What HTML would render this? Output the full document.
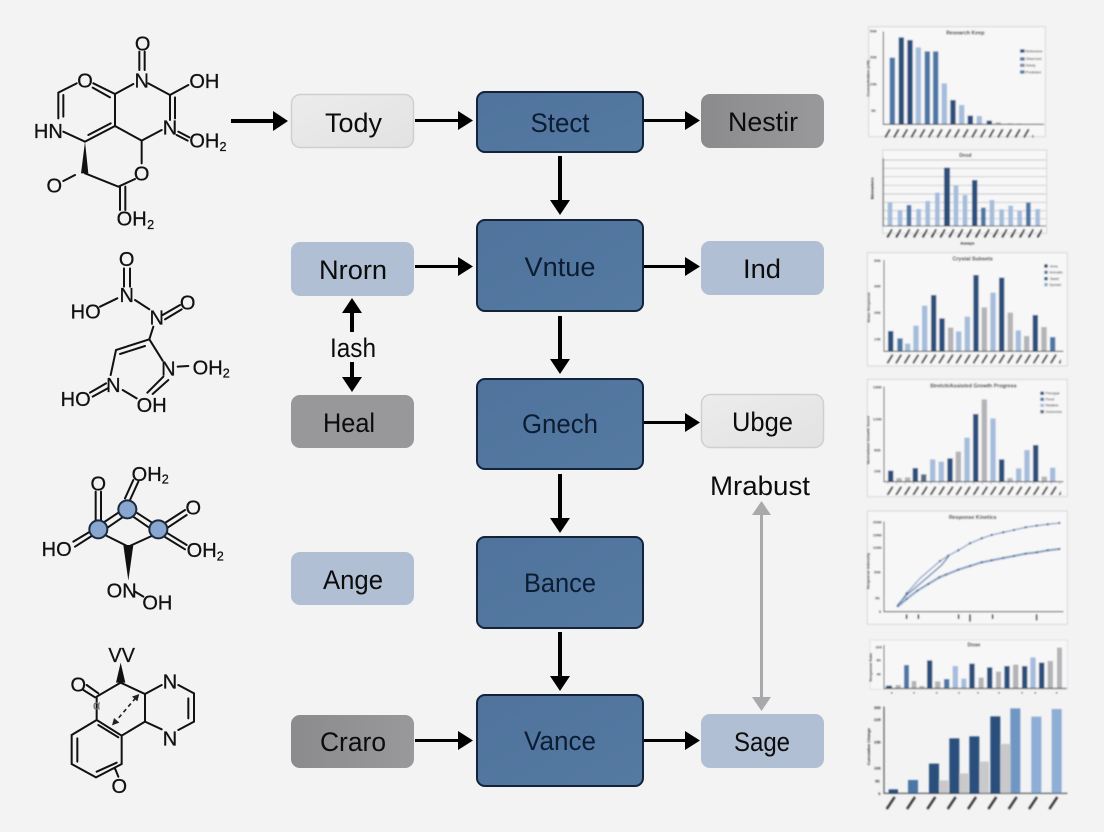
<!DOCTYPE html>
<html lang="en"><head><meta charset="utf-8"><title>Diagram</title>
<style>
html,body{margin:0;padding:0;background:#f3f3f4}
svg{display:block}
.n{font:27px "Liberation Sans",sans-serif;text-anchor:middle;fill:#0c0c0c}
.b{fill:#0c1c32}
.m text{font:60px "Liberation Sans",sans-serif;text-anchor:middle;fill:#111;stroke:#111;stroke-width:.8}
.m text.s{font-size:38px}
.m path.l{fill:none;stroke:#111;stroke-width:6;stroke-linecap:round}
.c text{font:11px "Liberation Sans",sans-serif;fill:#222}
.c text.t{font-size:16px;font-weight:bold;text-anchor:middle;fill:#111}
.c text.y{font-size:12px;font-weight:bold;text-anchor:middle;fill:#222}
.k{fill:#2b4f7b}.d{fill:#4c77a6}.h{fill:#a5bddb}.g{fill:#b4b4b7}
.ax{fill:none;stroke:#222;stroke-width:2.500}
.card{fill:#f7f7f8;stroke:#d6d6d8;stroke-width:3}
.gr{fill:none;stroke:#b5b5b8;stroke-width:2}
</style></head><body>
<svg width="1104" height="832" viewBox="0 0 1104 832" xmlns="http://www.w3.org/2000/svg">
<defs>
<linearGradient id="lg" x1="0" y1="0" x2="1" y2="1"><stop offset="0" stop-color="#ececec"/><stop offset="1" stop-color="#e2e2e3"/></linearGradient>
<linearGradient id="gg" x1="0" y1="0" x2="1" y2="0"><stop offset="0" stop-color="#8b8b8e"/><stop offset="1" stop-color="#99999b"/></linearGradient>
<linearGradient id="bg" x1="0" y1="0" x2="1" y2="1"><stop offset="0" stop-color="#4f739c"/><stop offset="1" stop-color="#557aa2"/></linearGradient>
<filter id="bl" x="-5%" y="-5%" width="110%" height="110%"><feGaussianBlur stdDeviation="2.200"/></filter>
<pattern id="p1" width="26" height="34" patternUnits="userSpaceOnUse" x="70" y="322"><path d="M6 30L20 6" stroke="#333" stroke-width="5.500"/></pattern>
<pattern id="p2" width="26.5" height="34" patternUnits="userSpaceOnUse" x="76" y="622"><path d="M6 30L20 6" stroke="#333" stroke-width="5.500"/></pattern>
<pattern id="p3" width="25.8" height="36" patternUnits="userSpaceOnUse" x="78" y="308"><path d="M4 32L20 6" stroke="#333" stroke-width="5.500"/></pattern>
<pattern id="p7" width="61" height="48" patternUnits="userSpaceOnUse" x="70" y="478"><path d="M10 44L34 8" stroke="#333" stroke-width="7"/></pattern>
</defs>
<rect width="1104" height="832" fill="#f3f3f4"/>

<!-- molecule 1 -->
<g class="m" transform="translate(20,20) scale(.33333)">
<path class="l" d="M358 95V150M374 95V150M340 192L285 222M385 190L450 225L505 195M450 225V300M465 232V295M475 335L508 352M470 345L503 362M425 330L365 362L285 318V222L220 190M270 232L218 203M285 318L195 365L130 335M272 310L205 345M115 295V218L170 190M130 290V225M195 460L295 500L345 477M365 362V430M300 500V570M316 500V570M165 465L130 483"/>
<path d="M195 365L183 460H205Z" fill="#111"/>
<text x="368" y="91">O</text><text x="365" y="203">N</text><text x="553" y="204">OH</text><text x="195" y="203">O</text><text x="85" y="354">HN</text><text x="450" y="344">N</text><text x="553" y="383">OH</text><text class="s" x="609" y="393">2</text><text x="365" y="481">O</text><text x="103" y="518">O</text><text x="335" y="616">OH</text><text class="s" x="392" y="627">2</text>
</g>
<!-- molecule 2 -->
<g class="m" transform="translate(40,240) scale(.33333)">
<path class="l" d="M252 85V140M270 85V140M180 200L232 175M285 180L328 208M368 225L420 195M375 238L425 208M340 260L328 298L228 330L212 405M315 318L240 342M328 298L368 362M413 380L445 378M370 410L322 458M385 420L338 462M248 450L290 475M198 430L150 458M203 445L158 470"/>
<text x="260" y="78">O</text><text x="260" y="186">N</text><text x="137" y="236">HO</text><text x="350" y="253">N</text><text x="443" y="208">O</text><text x="385" y="406">N</text><text x="503" y="403">OH</text><text class="s" x="559" y="412">2</text><text x="220" y="456">N</text><text x="107" y="498">HO</text><text x="335" y="516">OH</text>
</g>
<!-- molecule 3 -->
<g class="m" transform="translate(30,450) scale(.33333)">
<path class="l" d="M197 125V215M213 125V215M300 150L325 95M285 145L310 90M205 228L292 170M215 245L295 190M292 170L385 230M295 190L375 245M400 222L465 180M410 235L470 195M405 245L470 285M400 258L465 298M130 275L180 245M135 290L185 258M225 255L295 290L365 258M315 425L340 440"/>
<path d="M295 392L280 285H310Z" fill="#111"/>
<g fill="#88a6cf" stroke="#1c2a3c" stroke-width="6"><circle cx="205" cy="238" r="27"/><circle cx="292" cy="178" r="27"/><circle cx="385" cy="238" r="27"/></g>
<text x="205" y="121">O</text><text x="350" y="93">OH</text><text class="s" x="406" y="100">2</text><text x="490" y="193">O</text><text x="515" y="321">OH</text><text class="s" x="571" y="331">2</text><text x="80" y="318">HO</text><text x="275" y="443">ON</text><text x="382" y="479">OH</text>
</g>
<!-- molecule 4 -->
<g class="m" transform="translate(50,640) scale(.33333)">
<path class="l" d="M212 128L140 170V240L215 287V372L138 412L65 372V285L140 240M212 128L285 162L335 135M385 135L432 160V245L385 270M415 175V235M335 268L285 245V162M285 245L215 287M110 135L145 160M100 150L135 172M145 255L205 292M200 368L140 395M82 365V295M195 385L205 410"/>
<path d="M212 68L198 128H226Z" fill="#111"/>
<path d="M192 250L262 168" fill="none" stroke="#222" stroke-width="5" stroke-dasharray="12 10"/>
<path d="M268 162L246 170L262 184ZM186 256L208 248L192 234Z" fill="#222"/>
<text x="215" y="66">VV</text><text x="85" y="154">O</text><text x="360" y="146">N</text><text x="360" y="316">N</text><text x="208" y="459">O</text><text class="s" x="140" y="208" style="fill:#777;stroke:#777">α</text>
</g>

<!-- connectors -->
<g fill="#000" stroke="none">
<path d="M231 119h42v-8l15 10-15 10v-8h-42z"/>
<path d="M415 119h43v-8l15 9.500-15 9.500v-8h-43z"/>
<path d="M644 119h41v-8l15 9.500-15 9.500v-8h-41z"/>
<path d="M415 265h43v-8l15 9.500-15 9.500v-8h-43z"/>
<path d="M644 265h41v-8l15 9.500-15 9.500v-8h-41z"/>
<path d="M644 421h41v-8l15 9.500-15 9.500v-8h-41z"/>
<path d="M415 739h43v-8l15 9.500-15 9.500v-8h-43z"/>
<path d="M644 739h41v-8l15 9.500-15 9.500v-8h-41z"/>
<path d="M558 156v44h-8l10 15 10-15h-8v-44z"/>
<path d="M558 316v43h-8l10 15 10-15h-8v-43z"/>
<path d="M558 474v44h-8l10 15 10-15h-8v-44z"/>
<path d="M558 632v44h-8l10 15 10-15h-8v-44z"/>
<path d="M350 332v-19h-8l10-15 10 15h-8v19z"/>
<path d="M350 362v15h-8l10 15 10-15h-8v-15z"/>
<path d="M760 515v182h-8l9.500 14 9.500-14h-8V515h8l-9.500-14-9.500 14z" fill="#a9a9ab"/>
</g>

<!-- left nodes -->
<rect x="291.500" y="94.500" width="122" height="53" rx="9" fill="url(#lg)" stroke="#cfcfd0" stroke-width="1.500"/>
<rect x="291" y="242" width="123" height="54" rx="9" fill="#b0bfd3"/>
<rect x="291" y="395" width="123" height="53" rx="9" fill="#98989a"/>
<rect x="291" y="552" width="123" height="53" rx="9" fill="#b0bfd3"/>
<rect x="291" y="715" width="123" height="53" rx="9" fill="url(#gg)"/>
<!-- middle nodes -->
<g fill="url(#bg)" stroke="#12233a" stroke-width="2">
<rect x="477" y="92" width="166" height="60" rx="8"/>
<rect x="477" y="220" width="166" height="91" rx="8"/>
<rect x="477" y="379" width="166" height="90" rx="8"/>
<rect x="477" y="537" width="166" height="91" rx="8"/>
<rect x="477" y="695" width="166" height="91" rx="8"/>
</g>
<!-- right nodes -->
<rect x="701" y="94" width="123" height="54" rx="9" fill="url(#gg)"/>
<rect x="701" y="241" width="123" height="54" rx="9" fill="#b0bfd3"/>
<rect x="701.500" y="394.500" width="122" height="53" rx="9" fill="url(#lg)" stroke="#cfcfd0" stroke-width="1.500"/>
<rect x="701" y="714" width="123" height="54" rx="9" fill="#b0bfd3"/>

<!-- labels -->
<text class="n" x="353.500" y="132" textLength="57" lengthAdjust="spacingAndGlyphs">Tody</text>
<text class="n" x="353" y="279" textLength="68" lengthAdjust="spacingAndGlyphs">Nrorn</text>
<text class="n" x="353" y="357" textLength="46" lengthAdjust="spacingAndGlyphs">Iash</text>
<text class="n" x="349" y="432" textLength="52" lengthAdjust="spacingAndGlyphs">Heal</text>
<text class="n" x="353" y="589" textLength="60" lengthAdjust="spacingAndGlyphs">Ange</text>
<text class="n" x="353" y="751" textLength="66" lengthAdjust="spacingAndGlyphs">Craro</text>
<text class="n b" x="560" y="132" textLength="59" lengthAdjust="spacingAndGlyphs">Stect</text>
<text class="n b" x="560" y="276" textLength="71" lengthAdjust="spacingAndGlyphs">Vntue</text>
<text class="n b" x="560" y="433" textLength="76" lengthAdjust="spacingAndGlyphs">Gnech</text>
<text class="n b" x="560" y="592" textLength="72" lengthAdjust="spacingAndGlyphs">Bance</text>
<text class="n b" x="560" y="750" textLength="72" lengthAdjust="spacingAndGlyphs">Vance</text>
<text class="n" x="763" y="131" textLength="70" lengthAdjust="spacingAndGlyphs">Nestir</text>
<text class="n" x="762" y="278" textLength="38" lengthAdjust="spacingAndGlyphs">Ind</text>
<text class="n" x="762.500" y="431" textLength="61" lengthAdjust="spacingAndGlyphs">Ubge</text>
<text class="n" x="760" y="495" textLength="100" lengthAdjust="spacingAndGlyphs">Mrabust</text>
<text class="n" x="762" y="751" textLength="56" lengthAdjust="spacingAndGlyphs">Sage</text>

<!-- charts 1 and 2 -->
<g class="c" transform="translate(860,20) scale(.33333)" style="filter:url(#bl)">
<rect class="card" x="26" y="20" width="530" height="330"/>
<text class="t" x="316" y="43">Research Keep</text>
<path class="d" d="M89 313V113h16V313zM194 313V94h16V313zM219 313V94h16V313z"/>
<path class="k" d="M116 313V52h16V313zM142 313V60h16V313zM271 313V240h16V313zM323 313V287h16V313zM380 313V302h16V313z"/>
<path class="h" d="M167 313V82h16V313zM245 313V190h16V313zM297 313V255h16V313zM350 313V288h16V313z"/>
<path class="g" d="M407 313V307h16V313zM442 313V310h16V313zM470 313V311h16V313z"/>
<path class="ax" d="M70 35V313H552"/>
<rect y="322" x="70" width="450" height="34" fill="url(#p1)"/>
<text x="40" y="38" class="y">500</text><text x="40" y="116" class="y">300</text><text x="40" y="196" class="y">200</text><text x="40" y="276" class="y">50</text>
<text class="y" transform="translate(28,175) rotate(-90)">Concentration (nM)</text>
<rect x="480" y="88" width="14" height="10" class="k"/><rect x="480" y="112" width="14" height="10" class="d"/><rect x="480" y="131" width="14" height="10" fill="#7f8ea3"/><rect x="480" y="151" width="14" height="10" class="d"/>
<text x="497" y="98">Reference</text><text x="497" y="120">Observed</text><text x="497" y="139">Assay</text><text x="497" y="160">Predicted</text>

<rect class="card" x="68" y="390" width="492" height="250"/>
<path class="gr" d="M70 420H558M70 445H558M70 470H558M70 496H558M70 522H558M70 547H558M70 572H558M70 596H558"/>
<text class="t" x="316" y="411">Drod</text>
<path class="h" d="M83 618V547h14V618zM113 618V570h14V618zM169 618V567h14V618zM196 618V543h14V618zM225 618V518h14V618zM281 618V497h14V618zM308 618V525h14V618zM389 618V540h14V618zM418 618V568h14V618zM445 618V557h14V618zM472 618V572h14V618zM526 618V567h14V618z"/>
<path class="d" d="M140 618V555h14V618zM363 618V563h14V618zM498 618V548h14V618z"/>
<path class="k" d="M252 618V443h18V618zM336 618V480h16V618z"/>
<path class="ax" d="M70 415V618H558"/>
<rect y="622" x="76" width="470" height="34" fill="url(#p2)"/>
<text class="y" transform="translate(40,505) rotate(-90)">Biomarkers</text>
<text class="y" x="322" y="674">Assays</text>
</g>

<!-- charts 3 and 4 -->
<g class="c" transform="translate(860,250) scale(.33333)" style="filter:url(#bl)">
<rect class="card" x="22" y="8" width="600" height="340"/>
<text class="t" x="338" y="31">Crystal Subsets</text>
<path class="k" d="M84 304V243h16V304zM213 304V135h16V304zM238 304V205h16V304zM340 304V75h16V304zM417 304V83h16V304zM518 304V195h16V304z"/>
<path class="d" d="M112 304V265h16V304zM570 304V261h16V304z"/>
<path class="h" d="M135 304V281h16V304zM160 304V227h16V304zM186 304V167h16V304zM288 304V244h16V304zM314 304V200h16V304zM391 304V128h16V304zM467 304V241h16V304z"/>
<path class="g" d="M264 304V233h16V304zM365 304V172h16V304zM443 304V188h16V304zM492 304V258h16V304zM544 304V231h16V304z"/>
<path class="ax" d="M72 30V304H610"/>
<rect y="308" x="78" width="525" height="36" fill="url(#p3)"/>
<text class="y" x="52" y="36">500</text><text class="y" x="52" y="112">400</text><text class="y" x="52" y="192">300</text><text class="y" x="52" y="272">100</text>
<text class="y" transform="translate(30,172) rotate(-90)">Mean Response</text>
<rect x="553" y="43" width="10" height="10" fill="#22324a"/><rect x="553" y="62" width="10" height="10" class="d"/><rect x="553" y="81" width="10" height="10" class="k"/><rect x="553" y="99" width="10" height="10" fill="#8fa4bf"/>
<text x="570" y="52">Area</text><text x="568" y="71">Annuals</text><text x="570" y="90">Sarat</text><text x="568" y="108">Spread</text>

<rect class="card" x="22" y="388" width="600" height="352"/>
<text class="t" x="340" y="412">Stretch/Assisted Growth Progress</text>
<path class="k" d="M84 695V662h16V695zM158 695V654h16V695zM262 695V625h16V695zM339 695V492h16V695zM417 695V628h16V695zM519 695V585h16V695z"/>
<path fill="#5a6a80" d="M183 695V673h16V695z"/>
<path class="g" d="M109 695V684h16V695zM135 695V682h16V695zM287 695V605h16V695zM365 695V448h16V695zM442 695V684h16V695zM545 695V680h16V695z"/>
<path class="h" d="M210 695V628h16V695zM236 695V635h16V695zM313 695V563h16V695zM391 695V505h16V695zM468 695V655h16V695zM493 695V600h16V695zM570 695V653h16V695z"/>
<path class="ax" d="M72 410V695H610"/>
<rect y="699" x="78" width="525" height="36" fill="url(#p3)"/>
<text class="y" x="52" y="416">1800</text><text class="y" x="52" y="512">1200</text><text class="y" x="52" y="604">800</text><text class="y" x="52" y="668">200</text>
<text class="y" transform="translate(28,570) rotate(-90)">Normalized Growth Score</text>
<rect x="541" y="425" width="11" height="10" class="k"/><rect x="541" y="443" width="11" height="10" class="d"/><rect x="541" y="461" width="11" height="10" class="h"/><rect x="541" y="480" width="11" height="10" fill="#5a6a80"/>
<text x="556" y="434">Principal</text><text x="556" y="452">Fixed</text><text x="556" y="470">Relative</text><text x="556" y="489">Outcomes</text>
</g>

<!-- chart 5 -->
<g class="c" transform="translate(860,505) scale(.33333)" style="filter:url(#bl)">
<rect class="card" x="22" y="18" width="600" height="340"/>
<text class="t" x="338" y="42">Response Kinetics</text>
<path class="ax" d="M72 50V320H610"/>
<path d="M113 303L140 265L180 220L240 168L265 152L295 136L330 115L365 100L395 90L430 82L462 75L497 67L530 62L563 58L598 54" fill="none" stroke="#8ba6c8" stroke-width="4"/>
<path d="M113 305L140 282L172 257L205 237L238 217L258 209L295 194L330 183L365 172L395 166L430 159L462 153L497 146L530 142L563 136L598 132" fill="none" stroke="#7f9dc3" stroke-width="6"/>
<path d="M113 300L140 270L172 243L205 215L245 180L265 155" fill="none" stroke="#5d80aa" stroke-width="4"/>
<path d="M113 303h.1M140 265h.1M240 168h.1M265 152h.1M295 136h.1M330 115h.1M365 100h.1M395 90h.1M430 82h.1M462 75h.1M497 67h.1M530 62h.1M563 58h.1M598 54h.1M140 282h.1M172 257h.1M205 237h.1M238 217h.1M258 209h.1M295 194h.1M330 183h.1M365 172h.1M395 166h.1M430 159h.1M462 153h.1M497 146h.1M530 142h.1M563 136h.1M598 132h.1" stroke="#46648c" stroke-width="7" stroke-linecap="round"/>
<path d="M140 328v14M175 328v14M296 328v14M330 328v22M398 328v14M530 328v18" stroke="#333" stroke-width="5"/>
<text class="y" x="52" y="56">2000</text><text class="y" x="52" y="94">1500</text><text class="y" x="52" y="132">1000</text><text class="y" x="52" y="206">500</text><text class="y" x="52" y="284">50</text><text class="y" x="60" y="324">0</text>
<text class="y" transform="translate(28,198) rotate(-90)">Response Intensity</text>
</g>

<!-- charts 6 and 7 -->
<g class="c" transform="translate(860,635) scale(.33333)" style="filter:url(#bl)">
<rect x="30" y="15" width="592" height="148" fill="#f7f7f8" stroke="#d8d8da" stroke-width="2"/>
<text class="t" x="342" y="34">Dose</text>
<path class="k" d="M78 160V152h18V160zM201 160V76h16V160zM328 160V86h16V160zM381 160V97h16V160zM433 160V93h16V160zM486 160V93h16V160zM537 160V83h16V160z"/>
<path class="d" d="M132 160V90h15V160zM252 160V132h16V160z"/>
<path class="h" d="M278 160V93h16V160zM304 160V131h15V160zM511 160V67h16V160z"/>
<path class="g" d="M107 160V150h15V160zM155 160V138h14V160zM178 160V153h15V160zM225 160V139h16V160zM356 160V128h15V160zM408 160V110h15V160zM459 160V89h16V160zM563 160V78h16V160zM591 160V38h15V160z"/>
<path class="ax" d="M72 30V160H620"/>
<text class="y" x="56" y="40">100</text><text class="y" x="56" y="80">60</text><text class="y" x="56" y="122">40</text>
<text class="y" transform="translate(36,97) rotate(-90)">Response Rate</text>
<path d="M162 172v3M230 172v3M297 172v3M354 172v3M417 172v3M486 172v3M526 172v3M590 172v3M95 172v3" stroke="#333" stroke-width="4"/>

<path class="k" d="M86 475V463h28V475zM207 475V386h30V475zM268 475V310h30V475zM328 475V304h30V475zM391 475V244h30V475z"/>
<path class="d" d="M144 475V435h30V475z"/>
<path fill="#6f97c4" d="M451 475V220h30V475z"/>
<path fill="#8eaed6" d="M514 475V245h30V475zM575 475V222h30V475z"/>
<path fill="#c9c9cc" d="M238 475V436h28V475zM298 475V415h28V475zM359 475V380h28V475zM422 475V327h30V475z"/>
<path class="ax" d="M72 215V475H622"/>
<rect y="478" x="70" width="550" height="48" fill="url(#p7)"/>
<text class="y" x="52" y="222">300</text><text class="y" x="52" y="258">225</text><text class="y" x="52" y="326">150</text><text class="y" x="52" y="404">100</text><text class="y" x="52" y="442">50</text><text class="y" x="58" y="480">0</text>
<text class="y" transform="translate(30,335) rotate(-90)">Cumulative Change</text>
</g>
</svg>
</body></html>
